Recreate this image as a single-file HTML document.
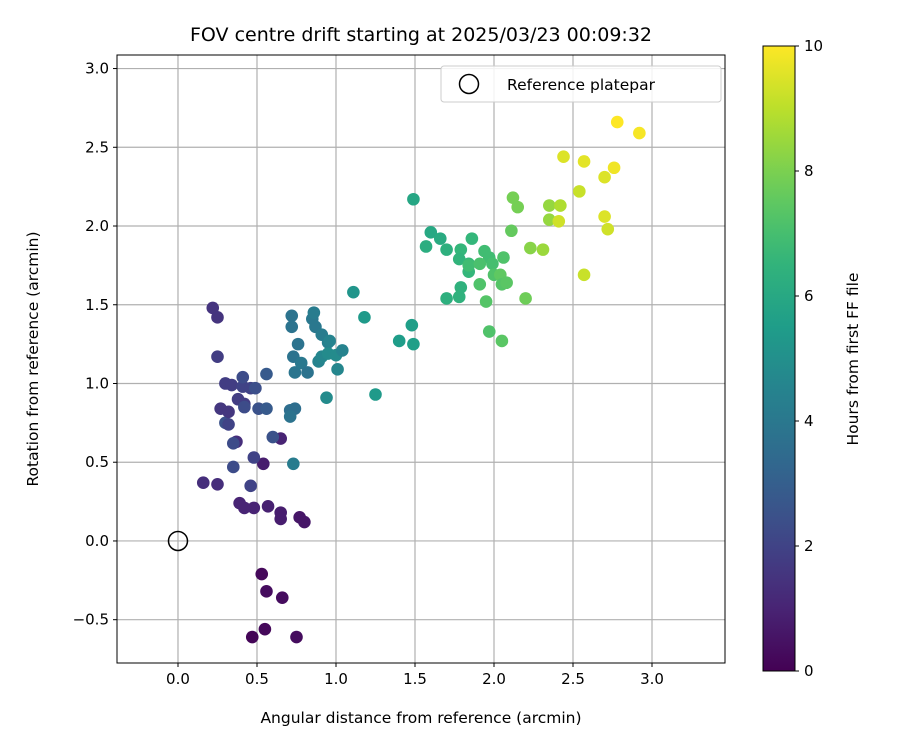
<!DOCTYPE html>
<html><head><meta charset="utf-8"><style>
body{margin:0;background:#fff;font-family:"Liberation Sans","DejaVu Sans",sans-serif}
svg text{font-family:"DejaVu Sans","Liberation Sans",sans-serif}
</style></head><body>
<svg id="c" width="900" height="750" xmlns="http://www.w3.org/2000/svg"></svg>
<script>
const xs=[.47,.55,.75,.53,.56,.66,.77,.80,.65,.65,.57,.48,.42,.39,.16,.25,.46,.54,.48,.35,.37,.35,.65,.60,.30,.32,.27,.32,.38,.42,.42,.51,.56,.30,.34,.41,.41,.46,.49,.56,.25,.22,.25,
.72,.72,.73,.76,.74,.78,.82,.85,.87,.86,.91,.95,.89,.91,.95,1.0,1.04,1.01,.96,.94,.71,.74,.71,.73,1.11,1.18,1.25,1.40,1.48,1.49,1.49,
1.60,1.66,1.57,1.70,1.79,1.86,1.78,1.84,1.94,1.97,1.99,2.06,1.84,1.84,1.91,1.79,1.78,1.70,1.91,2.0,2.04,2.05,2.08,1.95,1.97,2.05,2.2,2.11,2.12,2.15,2.23,2.31,2.35,2.35,2.42,2.41,2.44,
2.78,2.92,2.57,2.76,2.70,2.54,2.70,2.72,2.57];
const ys=[-.61,-.56,-.61,-.21,-.32,-.36,.15,.12,.18,.14,.22,.21,.21,.24,.37,.36,.35,.49,.53,.47,.63,.62,.65,.66,.75,.74,.84,.82,.9,.87,.85,.84,.84,1.0,.99,.98,1.04,.97,.97,1.06,1.17,1.48,1.42,
1.43,1.36,1.17,1.25,1.07,1.13,1.07,1.41,1.36,1.45,1.31,1.26,1.14,1.17,1.19,1.18,1.21,1.09,1.27,.91,.83,.84,.79,.49,1.58,1.42,.93,1.27,1.37,1.25,2.17,
1.96,1.92,1.87,1.85,1.85,1.92,1.79,1.76,1.84,1.80,1.76,1.80,1.71,1.75,1.76,1.61,1.55,1.54,1.63,1.69,1.69,1.63,1.64,1.52,1.33,1.27,1.54,1.97,2.18,2.12,1.86,1.85,2.13,2.04,2.13,2.03,2.44,
2.66,2.59,2.41,2.37,2.31,2.22,2.06,1.98,1.69];
const hours=[.1,.2,.3,.2,.3,.3,.6,.6,.8,.8,.9,1.0,1.0,1.0,1.3,1.3,2.0,.8,2.0,2.3,1.3,2.3,1.0,2.5,2.5,2.0,1.6,1.6,1.8,1.8,2.3,2.5,2.8,1.8,1.8,2.0,2.3,2.0,2.4,2.8,1.8,1.5,1.5,
3.8,3.8,3.8,3.8,3.9,4.0,3.8,4.0,4.0,4.2,4.2,4.3,4.5,4.6,4.8,4.8,4.5,4.6,4.5,4.8,3.6,3.6,3.8,4.2,5.2,5.4,5.4,5.5,5.6,5.6,5.9,
6.0,6.1,6.2,6.3,6.6,6.6,6.5,6.7,6.9,6.9,7.0,7.2,6.6,6.9,7.1,6.4,6.4,6.3,7.2,7.2,7.5,7.3,7.4,7.3,7.2,7.4,7.8,7.6,7.9,7.9,8.2,8.5,8.4,8.4,8.8,9.3,9.5,
10,9.9,9.6,9.8,9.5,9.2,9.5,9.3,9.2];
const xTicks=[0,0.5,1,1.5,2,2.5,3];
const yTicks=[-0.5,0,0.5,1,1.5,2,2.5,3];
const cTicks=[0,2,4,6,8,10];
const NS='http://www.w3.org/2000/svg',svg=document.getElementById('c');
const L=117,R=725,T=55,B=663,X0=-0.386,X1=3.462,Y0=-0.775,Y1=3.086;
const sx=v=>L+(v-X0)/(X1-X0)*(R-L), sy=v=>B-(v-Y0)/(Y1-Y0)*(B-T);
function el(t,a,txt){const e=document.createElementNS(NS,t);for(const k in a)e.setAttribute(k,a[k]);if(txt!=null)e.textContent=txt;svg.appendChild(e);return e;}
const V=[[68,1,84],[72,40,120],[62,74,137],[49,104,142],[38,130,142],[31,158,137],[53,183,121],[109,205,89],[180,222,44],[253,231,37]];
function vir(t){t=Math.max(0,Math.min(1,t))*9;const i=Math.min(8,Math.floor(t)),f=t-i;const a=V[i],b=V[i+1];return 'rgb('+a.map((c,k)=>Math.round(c+(b[k]-c)*f)).join(',')+')';}
// grid
xTicks.forEach(v=>{const g=el('line',{x1:sx(v),x2:sx(v),y1:T,y2:B,stroke:'#b0b0b0','stroke-width':1.2});});
yTicks.forEach(v=>{const g=el('line',{x1:L,x2:R,y1:sy(v),y2:sy(v),stroke:'#b0b0b0','stroke-width':1.2});});
// points
xs.forEach((x,i)=>{const p=el('circle',{cx:sx(x),cy:sy(ys[i]),r:6.3,fill:vir(hours[i]/10)});});
const rp=el('circle',{cx:sx(0),cy:sy(0),r:9.5,fill:'none',stroke:'#000','stroke-width':1.5});

// frame
const fr=el('rect',{x:L,y:T,width:R-L,height:B-T,fill:'none',stroke:'#000','stroke-width':1});

xTicks.forEach(v=>{el('line',{x1:sx(v),x2:sx(v),y1:B,y2:B+4,stroke:'#000'});const t=el('text',{x:sx(v),y:B+21,'text-anchor':'middle','font-size':15},v.toFixed(1));});
yTicks.forEach(v=>{el('line',{x1:L-4,x2:L,y1:sy(v),y2:sy(v),stroke:'#000'});const t=el('text',{x:L-8,y:sy(v)+5,'text-anchor':'end','font-size':15},(v<0?'\u2212':'')+Math.abs(v).toFixed(1));});
let t=el('text',{x:421,y:41,'text-anchor':'middle','font-size':19},'FOV centre drift starting at 2025/03/23 00:09:32');
t=el('text',{x:421,y:723,'text-anchor':'middle','font-size':15.5},'Angular distance from reference (arcmin)');
t=el('text',{x:38,y:359,'text-anchor':'middle','font-size':15.5,transform:'rotate(-90 38 359)'},'Rotation from reference (arcmin)');
// legend
let lg=el('rect',{x:441,y:66,width:280,height:36,rx:3,fill:'#fff','fill-opacity':0.85,stroke:'#ccc'});
lg=el('circle',{cx:469,cy:84,r:9.5,fill:'none',stroke:'#000','stroke-width':1.5});
t=el('text',{x:507,y:90,'font-size':15.5},'Reference platepar');
// colorbar
const CL=763,CR=795,CT=46,CB=671;
const defs=el('defs',{});const gr=document.createElementNS(NS,'linearGradient');gr.setAttribute('id','vg');gr.setAttribute('x1','0');gr.setAttribute('y1','1');gr.setAttribute('x2','0');gr.setAttribute('y2','0');defs.appendChild(gr);
for(let i=0;i<=20;i++){const s=document.createElementNS(NS,'stop');s.setAttribute('offset',i/20);s.setAttribute('stop-color',vir(i/20));gr.appendChild(s);}
const cb=el('rect',{x:CL,y:CT,width:CR-CL,height:CB-CT,fill:'url(#vg)',stroke:'#000','stroke-width':1});
cTicks.forEach(v=>{const y=CB-v/10*(CB-CT);el('line',{x1:CR,x2:CR+4,y1:y,y2:y,stroke:'#000'});const tt=el('text',{x:CR+9,y:y+5,'font-size':15},String(v));});
t=el('text',{x:858,y:359,'text-anchor':'middle','font-size':15.5,transform:'rotate(-90 858 359)'},'Hours from first FF file');
</script>
</body></html>
